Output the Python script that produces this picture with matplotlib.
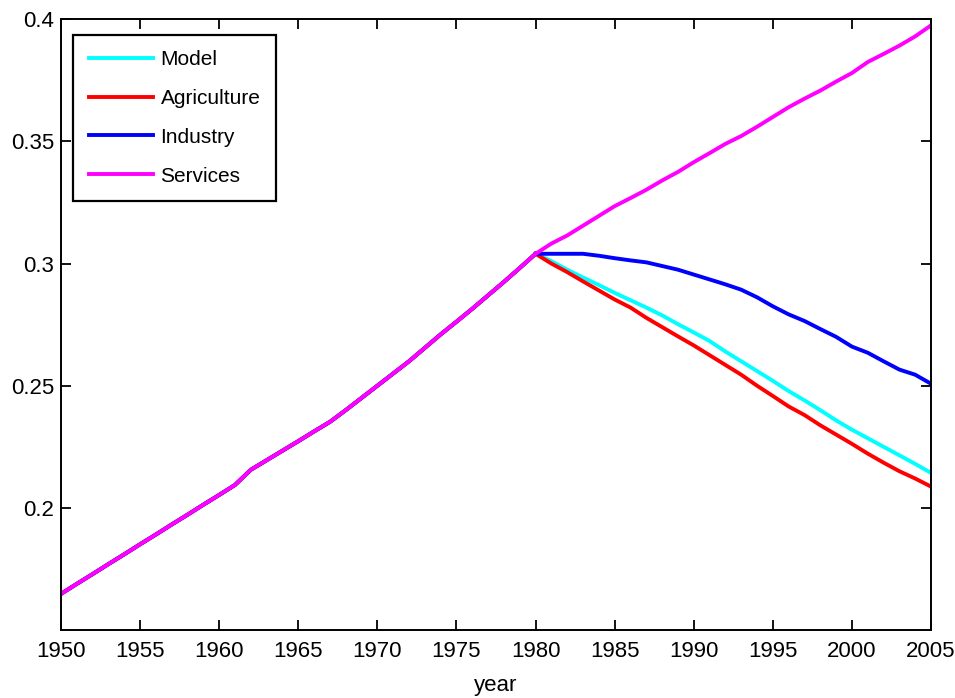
"""Sector shares over time: model vs agriculture, industry and services."""

import matplotlib
matplotlib.use("Agg")
import matplotlib.pyplot as plt

plt.rcParams["font.family"] = ["Liberation Sans", "DejaVu Sans"]

# Common path before 1980 (all series overlap)
years_pre = list(range(1950, 1981))
common_pre = [
    0.1648, 0.1689, 0.1729, 0.1770, 0.1810, 0.1851, 0.1891, 0.1932, 0.1972, 0.2013,
    0.2053, 0.2094, 0.2156, 0.2195, 0.2234, 0.2273, 0.2313, 0.2352, 0.2400, 0.2450,
    0.2500, 0.2550, 0.2600, 0.2655, 0.2710, 0.2762, 0.2815, 0.2870, 0.2925, 0.2982,
    0.3040,
]

# Divergent paths from 1980 on
years_post = list(range(1980, 2006))
model = [
    0.3040, 0.3010, 0.2975, 0.2943, 0.2912, 0.2880, 0.2850, 0.2820, 0.2788, 0.2752,
    0.2718, 0.2683, 0.2640, 0.2600, 0.2560, 0.2520, 0.2478, 0.2440, 0.2400, 0.2358,
    0.2320, 0.2285, 0.2250, 0.2215, 0.2180, 0.2143,
]
agriculture = [
    0.3040, 0.3000, 0.2965, 0.2927, 0.2890, 0.2853, 0.2820, 0.2778, 0.2740, 0.2702,
    0.2665, 0.2625, 0.2585, 0.2545, 0.2500, 0.2458, 0.2415, 0.2380, 0.2338, 0.2300,
    0.2262, 0.2222, 0.2185, 0.2150, 0.2120, 0.2087,
]
industry = [
    0.3040, 0.3040, 0.3040, 0.3040, 0.3032, 0.3022, 0.3013, 0.3005, 0.2990, 0.2975,
    0.2955, 0.2935, 0.2915, 0.2893, 0.2862, 0.2825, 0.2792, 0.2765, 0.2732, 0.2700,
    0.2660, 0.2635, 0.2600, 0.2566, 0.2545, 0.2508,
]
services = [
    0.3040, 0.3082, 0.3115, 0.3155, 0.3195, 0.3235, 0.3268, 0.3302, 0.3340, 0.3375,
    0.3415, 0.3452, 0.3490, 0.3522, 0.3560, 0.3600, 0.3640, 0.3675, 0.3708, 0.3745,
    0.3780, 0.3825, 0.3858, 0.3892, 0.3930, 0.3975,
]

x_ticks = list(range(1950, 2006, 5))
y_ticks = [0.2, 0.25, 0.3, 0.35, 0.4]
y_tick_labels = ["0.2", "0.25", "0.3", "0.35", "0.4"]

fig = plt.figure(figsize=(9.55, 6.98), dpi=100)
ax = fig.add_axes([0.0639, 0.0974, 0.911, 0.875])

lw = 2.8
ax.plot(years_pre, common_pre, color="#00ffff", lw=lw)
ax.plot(years_pre, common_pre, color="#ff0000", lw=lw)
ax.plot(years_pre, common_pre, color="#0000ff", lw=lw)
ax.plot(years_post, model, color="#00ffff", lw=lw, label="Model")
ax.plot(years_post, agriculture, color="#ff0000", lw=lw, label="Agriculture")
ax.plot(years_post, industry, color="#0000ff", lw=lw, label="Industry")
ax.plot(years_pre + years_post[1:], common_pre + services[1:], color="#ff00ff",
        lw=lw, label="Services")

ax.set_xlim(1950, 2005)
ax.set_ylim(0.15, 0.4)
ax.set_xticks(x_ticks)
ax.set_yticks(y_ticks)
ax.set_yticklabels(y_tick_labels)
ax.tick_params(direction="in", length=7, width=1.3, top=True, right=True,
               labelsize=16)
ax.tick_params(axis="x", pad=8)
ax.tick_params(axis="y", pad=5)
for s in ax.spines.values():
    s.set_linewidth(1.4)

ax.set_xlabel("year", fontsize=16, labelpad=9)

leg = ax.legend(loc="upper left", bbox_to_anchor=(0.0138, 0.975), borderaxespad=0,
                fontsize=15, fancybox=False, framealpha=1, edgecolor="black",
                handlelength=3.1, handletextpad=0.35, labelspacing=0.95,
                borderpad=0.75)
leg.get_frame().set_linewidth(1.6)

fig.savefig("out.png", dpi=100)
plt.close(fig)
